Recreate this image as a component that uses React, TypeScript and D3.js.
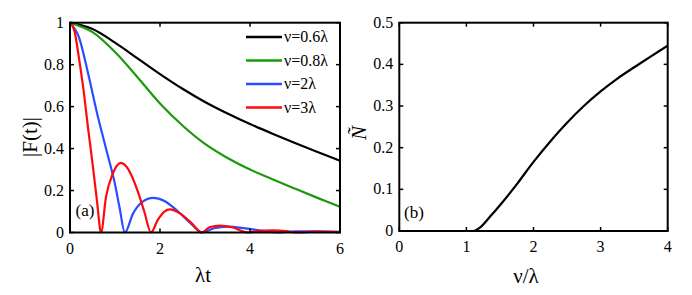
import React from 'react';
import * as d3 from 'd3';

// panel (a): |F(t)| against λt
const tBlack = [0, 0.5, 1, 1.5, 2, 2.5, 3, 3.5, 4, 4.5, 5, 5.5, 6];
const fBlack = [1, 0.97, 0.905, 0.83, 0.755, 0.685, 0.622, 0.567, 0.517, 0.471, 0.427, 0.384, 0.342];

const tGreen = [0, 0.5, 1, 1.5, 2, 2.5, 3, 3.5, 4, 4.5, 5, 5.5, 6];
const fGreen = [1, 0.955, 0.86, 0.74, 0.615, 0.51, 0.422, 0.355, 0.3, 0.254, 0.209, 0.165, 0.123];

const tBlue = [0, 0.2, 0.4, 0.6, 0.8, 1.0, 1.1, 1.22, 1.4, 1.6, 1.85, 2.1, 2.4, 2.7, 2.93, 3.2, 3.5, 3.9, 4.3, 4.6, 5, 5.5, 6];
const fBlue = [1, 0.93, 0.76, 0.57, 0.4, 0.23, 0.12, 0, 0.09, 0.145, 0.165, 0.15, 0.1, 0.04, 0, 0.02, 0.028, 0.02, 0.008, 0, 0.005, 0.006, 0.003];

const tRed = [0, 0.1, 0.2, 0.3, 0.4, 0.5, 0.6, 0.69, 0.8, 0.95, 1.13, 1.3, 1.5, 1.65, 1.8, 1.95, 2.1, 2.22, 2.45, 2.7, 2.93, 3.1, 3.33, 3.6, 3.96, 4.2, 4.5, 4.8, 5.0, 5.5, 6];
const fRed = [1, 0.96, 0.83, 0.68, 0.5, 0.33, 0.15, 0, 0.17, 0.28, 0.332, 0.3, 0.2, 0.1, 0, 0.06, 0.1, 0.11, 0.09, 0.045, 0, 0.025, 0.033, 0.025, 0, 0.008, 0.01, 0.007, 0, 0.004, 0.002];

const legendLabels = ['ν=0.6λ', 'ν=0.8λ', 'ν=2λ', 'ν=3λ'];
const seriesColors = ['#000000', '#1a9a0a', '#2b4dff', '#ff0a0a'];

// panel (b): Ñ against ν/λ
const nuB = [0, 1, 1.1, 1.2, 1.35, 1.5, 1.75, 2, 2.25, 2.5, 2.75, 3, 3.25, 3.5, 3.75, 4];
const nB = [0, 0, 0, 0.008, 0.034, 0.062, 0.112, 0.166, 0.215, 0.26, 0.3, 0.335, 0.366, 0.393, 0.419, 0.445];

const aXTicks = [0, 2, 4, 6];
const aYTicks = [0, 0.2, 0.4, 0.6, 0.8, 1];
const bXTicks = [0, 1, 2, 3, 4];
const bYTicks = [0, 0.1, 0.2, 0.3, 0.4, 0.5];

const font = "'Liberation Serif', 'DejaVu Serif', Times, serif";

type Pt = [number, number];
const zip = (xs: number[], ys: number[]): Pt[] => xs.map((x, i) => [x, ys[i]]);

function Frame({ x, y, xTicks, yTicks, fmtY }: any) {
  const [x0, x1] = x.range();
  const [y0, y1] = y.range();
  const tl = 4;
  return (
    <g>
      {xTicks.map((t: number) => (
        <g key={'x' + t}>
          <line x1={x(t)} x2={x(t)} y1={y0} y2={y0 - tl} stroke="#000" strokeWidth={1.5} />
          <line x1={x(t)} x2={x(t)} y1={y1} y2={y1 + tl} stroke="#000" strokeWidth={1.5} />
          <text x={x(t)} y={y0 + 21} fontSize={16} textAnchor="middle" style={{ fontFamily: font }}>{t}</text>
        </g>
      ))}
      {yTicks.map((t: number) => (
        <g key={'y' + t}>
          <line x1={x0} x2={x0 + tl} y1={y(t)} y2={y(t)} stroke="#000" strokeWidth={1.5} />
          <line x1={x1} x2={x1 - tl} y1={y(t)} y2={y(t)} stroke="#000" strokeWidth={1.5} />
          <text x={x0 - 6} y={y(t) + 5} fontSize={16} textAnchor="end" style={{ fontFamily: font }}>{fmtY(t)}</text>
        </g>
      ))}
      <rect x={x0} y={y1} width={x1 - x0} height={y0 - y1} fill="none" stroke="#000" strokeWidth={2} />
    </g>
  );
}

export default function App() {
  const xa = d3.scaleLinear().domain([0, 6]).range([70, 340]);
  const ya = d3.scaleLinear().domain([0, 1]).range([232.5, 22.7]);
  const xb = d3.scaleLinear().domain([0, 4]).range([399.3, 667.7]);
  const yb = d3.scaleLinear().domain([0, 0.5]).range([231, 22.7]);

  const smooth = d3.line<Pt>().x((d) => xa(d[0])).y((d) => ya(d[1])).curve(d3.curveCatmullRom.alpha(0.5));
  const cusp = d3.line<Pt>().x((d) => xa(d[0])).y((d) => ya(d[1])).curve(d3.curveMonotoneX);
  const lineB = d3.line<Pt>().x((d) => xb(d[0])).y((d) => yb(d[1])).curve(d3.curveMonotoneX);

  const seriesA = [
    smooth(zip(tBlack, fBlack)),
    smooth(zip(tGreen, fGreen)),
    cusp(zip(tBlue, fBlue)),
    cusp(zip(tRed, fRed)),
  ];
  const fmt = (v: number) => (v === 0 || v === 1 ? String(v) : d3.format('.1f')(v));

  return (
    <svg width={692} height={295} style={{ position: 'absolute', left: 0, top: 0, background: '#fff', fontFamily: font }}>
      {/* panel (a) */}
      {seriesA.map((d, i) => (
        <path key={i} d={d || ''} fill="none" stroke={seriesColors[i]} strokeWidth={2.2} />
      ))}
      <Frame x={xa} y={ya} xTicks={aXTicks} yTicks={aYTicks} fmtY={fmt} />
      {legendLabels.map((l, i) => (
        <g key={l} transform={`translate(246,${37 + i * 23.5})`}>
          <line x1={0} x2={36} y1={0} y2={0} stroke={seriesColors[i]} strokeWidth={2.5} />
          <text x={38} y={5} fontSize={16} style={{ fontFamily: font }}>{l}</text>
        </g>
      ))}
      <text x={85} y={216} fontSize={17} textAnchor="middle" style={{ fontFamily: font }}>(a)</text>
      <text x={203} y={282} fontSize={21} textAnchor="middle" style={{ fontFamily: font }}>λt</text>
      <text transform="translate(37,137) rotate(-90)" fontSize={21} textAnchor="middle" style={{ fontFamily: font }}>|F(t)|</text>

      {/* panel (b) */}
      <path d={lineB(zip(nuB, nB)) || ''} fill="none" stroke="#000" strokeWidth={2.2} />
      <Frame x={xb} y={yb} xTicks={bXTicks} yTicks={bYTicks} fmtY={(v: number) => (v === 0 ? '0' : d3.format('.1f')(v))} />
      <text x={414} y={218} fontSize={17} textAnchor="middle" style={{ fontFamily: font }}>(b)</text>
      <text x={526} y={283} fontSize={21} textAnchor="middle" style={{ fontFamily: font }}>ν/λ</text>
      <text transform="translate(366,133) rotate(-90)" fontSize={21} textAnchor="middle" style={{ fontFamily: font, fontStyle: 'italic' }}>Ñ</text>
    </svg>
  );
}
